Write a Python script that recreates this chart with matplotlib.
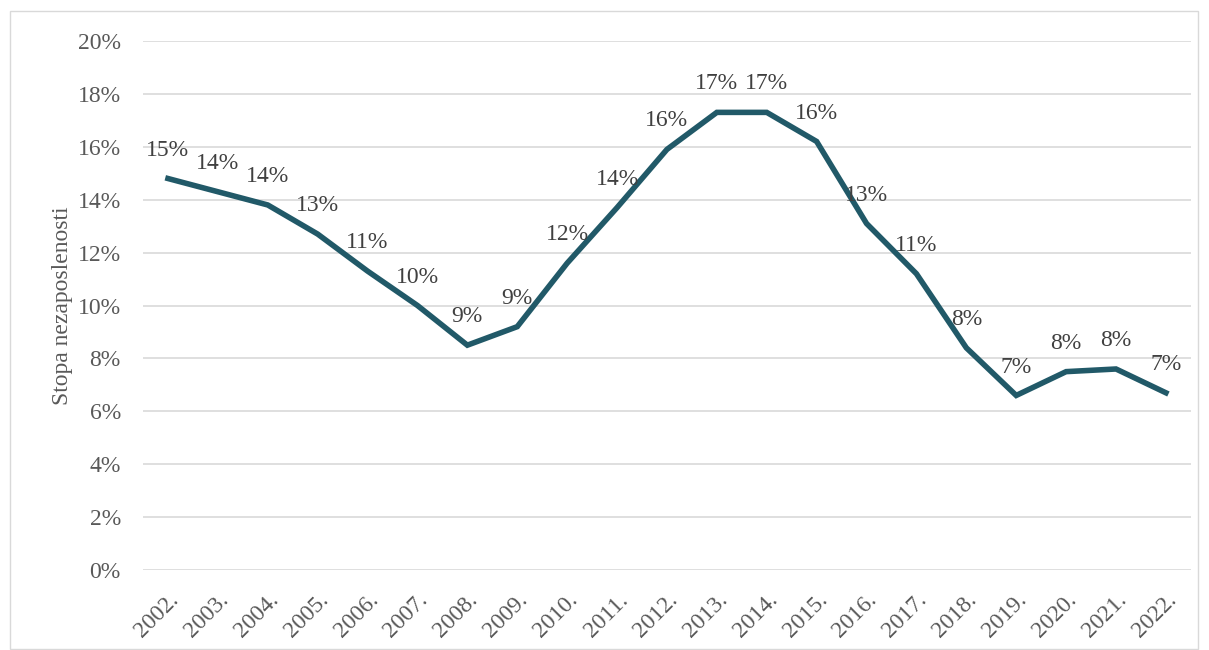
import matplotlib.pyplot as plt
from matplotlib.patches import Rectangle

plt.rcParams['font.family'] = ['Liberation Serif', 'DejaVu Serif']

# Stopa nezaposlenosti po godinama (%)
godine = ['2002.', '2003.', '2004.', '2005.', '2006.', '2007.', '2008.', '2009.',
          '2010.', '2011.', '2012.', '2013.', '2014.', '2015.', '2016.', '2017.',
          '2018.', '2019.', '2020.', '2021.', '2022.']
stopa = [14.8, 14.3, 13.8, 12.7, 11.3, 10.0, 8.5, 9.2, 11.6, 13.7, 15.9, 17.3,
         17.3, 16.2, 13.1, 11.2, 8.4, 6.6, 7.5, 7.6, 6.7]
oznake = ['15%', '14%', '14%', '13%', '11%', '10%', '9%', '9%', '12%', '14%', '16%',
          '17%', '17%', '16%', '13%', '11%', '8%', '7%', '8%', '8%', '7%']

boja = '#215968'
siva = '#595959'

fig = plt.figure(figsize=(12.09, 6.5), dpi=100)
ax = fig.add_axes([0.1183, 0.123, 0.8667, 0.814])

x = list(range(len(godine)))
ax.plot(x, stopa, color=boja, linewidth=4, solid_joinstyle='miter', zorder=3)

for xi, yi, t in zip(x, stopa, oznake):
    ax.annotate(t, (xi, yi), xytext=(0, 16.5), textcoords='offset points',
                ha='center', va='baseline', fontsize=17, color='#404040')

ax.set_xlim(-0.5, len(godine) - 0.5)
ax.set_ylim(0, 20)
ax.set_yticks(range(0, 21, 2))
ax.set_yticklabels([f'{v}%' for v in range(0, 21, 2)])
ax.set_xticks(x)
ax.set_xticklabels(godine, rotation=45, ha='right', rotation_mode='anchor')
ax.tick_params(axis='both', length=0, labelsize=17, labelcolor=siva)
ax.tick_params(axis='y', pad=16)
ax.tick_params(axis='x', pad=14)

ax.grid(axis='y', color='#d9d9d9', linewidth=1.2)
ax.set_axisbelow(True)
for s in ax.spines.values():
    s.set_visible(False)

ax.set_ylabel('Stopa nezaposlenosti', fontsize=17, color=siva)
ax.yaxis.set_label_coords(-0.067, 0.5)

fig.patches.append(Rectangle((10 / 1209, 0.002), 1188 / 1209, 1 - 12 / 650,
                             transform=fig.transFigure, fill=False,
                             edgecolor='#d9d9d9', linewidth=1))

fig.savefig('out.png', dpi=100)
